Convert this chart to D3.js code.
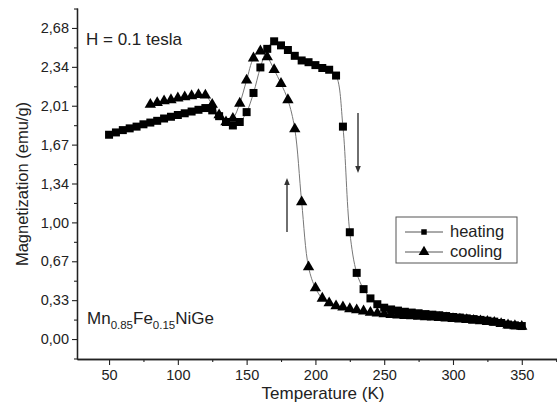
<!DOCTYPE html>
<html><head><meta charset="utf-8">
<script src="https://cdn.jsdelivr.net/npm/d3@7/dist/d3.min.js"></script>
<style>
html,body{margin:0;padding:0;background:#fff;}
text{font-family:"Liberation Sans",Arial,sans-serif;fill:#222;}
</style></head>
<body><svg id="c" width="557" height="407"></svg>
<script>
// ---- data ----
const heatingT = [50,55,60,65,70,75,80,85,90,95,100,105,110,115,120,125,130,135,140,145,150,155,160,165,170,175,180,185,190,195,200,205,210,215,220,225,230,235,240,245,250,255,260,265,270,275,280,285,290,295,300,305,310,315,320,325,330,335,340,345,350];
const heatingM = [1.76,1.78,1.80,1.815,1.83,1.85,1.865,1.88,1.90,1.915,1.93,1.945,1.96,1.975,1.99,1.97,1.92,1.87,1.84,1.87,1.955,2.12,2.34,2.50,2.565,2.53,2.49,2.44,2.40,2.385,2.36,2.335,2.32,2.27,1.83,0.92,0.57,0.43,0.35,0.30,0.27,0.255,0.245,0.235,0.228,0.222,0.215,0.21,0.205,0.198,0.19,0.185,0.178,0.172,0.165,0.158,0.15,0.138,0.125,0.118,0.112];
const coolingT = [80,85,90,95,100,105,110,115,120,125,130,135,140,145,150,155,160,165,170,175,180,185,190,195,200,205,210,215,220,225,230,235,240,245,250,255,260,265,270,275,280,285,290,295,300,305,310,315,320,325,330,335,340,345,350];
const coolingM = [2.02,2.035,2.05,2.06,2.075,2.085,2.095,2.105,2.10,2.02,1.93,1.87,1.90,2.03,2.23,2.42,2.48,2.43,2.32,2.20,2.06,1.81,1.18,0.62,0.44,0.35,0.31,0.285,0.275,0.26,0.25,0.24,0.228,0.222,0.215,0.21,0.205,0.20,0.198,0.195,0.19,0.187,0.183,0.18,0.175,0.17,0.166,0.16,0.155,0.15,0.142,0.132,0.12,0.113,0.108];
const xTicks = [50,100,150,200,250,300,350];
const xMinor = [75,125,175,225,275,325,375];
const yTicks = [0,0.335,0.67,1.005,1.34,1.675,2.01,2.345,2.68];
const yTickLabels = ["0,00","0,33","0,67","1,00","1,34","1,67","2,01","2,34","2,68"];
const yMinor = [-0.1675,0.1675,0.5025,0.8375,1.1725,1.5075,1.8425,2.1775,2.5125,2.8475];
const seriesNames = ["heating","cooling"];

// ---- chart ----
const svg = d3.select("#c");
const x = d3.scaleLinear().domain([26.7,375.6]).range([77,557]);
const y = d3.scaleLinear().domain([-0.172,2.852]).range([359,8]);

// axes
const gx = svg.append("g").attr("transform","translate(0,359)");
gx.call(d3.axisBottom(x).tickValues(xTicks).tickSize(6).tickSizeOuter(0).tickPadding(5));
const gxm = svg.append("g").attr("transform","translate(0,359)");
gxm.call(d3.axisBottom(x).tickValues(xMinor).tickSize(3).tickSizeOuter(0).tickFormat(""));
const gy = svg.append("g").attr("transform","translate(77,0)");
gy.call(d3.axisLeft(y).tickValues(yTicks).tickFormat((d,i)=>yTickLabels[i]).tickSize(5).tickSizeOuter(0).tickPadding(3));
const gym = svg.append("g").attr("transform","translate(77,0)");
gym.call(d3.axisLeft(y).tickValues(yMinor).tickSize(3).tickSizeOuter(0).tickFormat(""));
svg.selectAll(".domain").attr("stroke","#222").attr("stroke-width",1.3);
svg.selectAll(".tick line").attr("stroke","#222").attr("stroke-width",1.1);
svg.selectAll(".tick text").style("font-family","'Liberation Sans',Arial,sans-serif").style("font-size","14.5px").attr("fill","#222");

// titles
svg.append("text").attr("x",323).attr("y",399).attr("text-anchor","middle").style("font-size","17px").text("Temperature (K)");
svg.append("text").attr("transform","translate(28,184) rotate(-90)").attr("text-anchor","middle").style("font-size","16.5px").text("Magnetization (emu/g)");

// lines
const line = d3.line().x(d=>x(d[0])).y(d=>y(d[1])).curve(d3.curveCatmullRom);
const heat = heatingT.map((t,i)=>[t,heatingM[i]]);
const cool = coolingT.map((t,i)=>[t,coolingM[i]]);
svg.append("path").attr("d",line(heat)).attr("fill","none").attr("stroke","#777").attr("stroke-width",1);
svg.append("path").attr("d",line(cool)).attr("fill","none").attr("stroke","#777").attr("stroke-width",1);

const sq = d3.symbol().type(d3.symbolSquare).size(64);
const tri = d3.symbol().type(d3.symbolTriangle).size(56);
svg.append("g").selectAll("path").data(cool).join("path")
  .attr("d",tri).attr("transform",d=>`translate(${x(d[0])},${y(d[1])})`).attr("fill","#000");
svg.append("g").selectAll("path").data(heat).join("path")
  .attr("d",sq).attr("transform",d=>`translate(${x(d[0])},${y(d[1])})`).attr("fill","#000");

// annotations
svg.append("text").attr("x",86).attr("y",45).style("font-size","17px").text("H = 0.1 tesla");
const mn = svg.append("text").attr("x",87).attr("y",324).style("font-size","17px");
mn.append("tspan").text("Mn");
mn.append("tspan").attr("dy",5).style("font-size","11.5px").text("0.85");
mn.append("tspan").attr("dy",-5).text("Fe");
mn.append("tspan").attr("dy",5).style("font-size","11.5px").text("0.15");
mn.append("tspan").attr("dy",-5).text("NiGe");

// arrows
function arrow(x0,y0,y1){
  const dir = y1>y0?1:-1;
  svg.append("line").attr("x1",x0).attr("x2",x0).attr("y1",y0).attr("y2",y1-dir*5).attr("stroke","#333").attr("stroke-width",1.4);
  svg.append("path").attr("d",`M${x0-2.8},${y1-dir*7}L${x0+2.8},${y1-dir*7}L${x0},${y1}Z`).attr("fill","#333");
}
arrow(358,113,173);
arrow(287,232,178);

// legend
const lg = svg.append("g");
lg.append("rect").attr("x",396).attr("y",217).attr("width",121).attr("height",46).attr("fill","#fff").attr("stroke","#555").attr("stroke-width",1);
const legY = [232,252];
const legSym = [d3.symbol().type(d3.symbolSquare).size(30), d3.symbol().type(d3.symbolTriangle).size(50)];
seriesNames.forEach((n,i)=>{
  lg.append("line").attr("x1",405).attr("x2",443).attr("y1",legY[i]).attr("y2",legY[i]).attr("stroke","#555").attr("stroke-width",1);
  lg.append("path").attr("d",legSym[i]).attr("transform",`translate(424,${legY[i]})`).attr("fill","#000");
  lg.append("text").attr("x",450).attr("y",legY[i]+5).style("font-size","16.5px").text(n);
});
</script></body></html>
